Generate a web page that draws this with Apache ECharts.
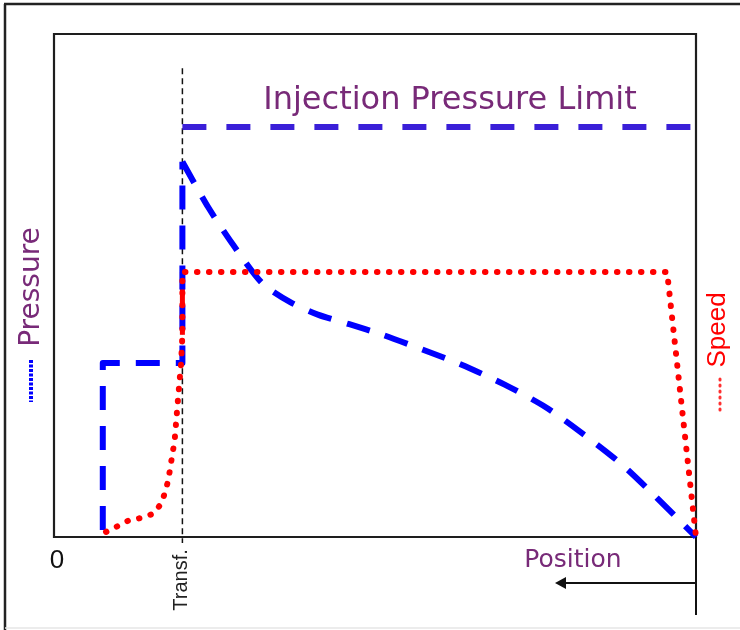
<!DOCTYPE html>
<html>
<head>
<meta charset="utf-8">
<style>
  html, body { margin: 0; padding: 0; background: #fff; }
  #chart { width: 740px; height: 630px; }
</style>
<script src="https://cdn.jsdelivr.net/npm/echarts@6/dist/echarts.min.js"></script>
</head>
<body>
<div id="chart"></div>
<script>
// ---- data (normalised units: x 0..100 along position, y 0..100 in plot height) ----
const pressureStepX = [7.6, 7.6, 20, 20];
const pressureStepY = [1.4, 34.6, 34.6, 74.6];
const pressureCurveX = [20, 24.0, 27.9, 32.4, 36.8, 41.1, 46.0, 51.2, 56.7, 63.4, 70.2, 76.6, 82.4, 88.2, 93.5, 100];
const pressureCurveY = [74.6, 65.6, 58.1, 50.5, 46.7, 44.2, 42.3, 40.2, 37.6, 34.3, 30.3, 25.8, 20.5, 14.7, 8.3, 0];
const speedX = [8.1, 10.0, 11.8, 13.7, 15.4, 16.7, 17.3, 17.8, 18.8, 19.3, 19.8, 20, 20, 95.5, 100];
const speedY = [1.0, 2.2, 3.4, 3.8, 4.6, 6.6, 8.9, 11.3, 19.3, 27.2, 34.6, 40.2, 52.7, 52.7, 0];
const speedSolidX = [20, 20];
const speedSolidY = [40.2, 52.7];
const limitX = [20, 100];
const limitY = [81.5, 81.5];
const transfX = [20, 20];
const transfY = [93.2, -1.2];
const texts = {
  limit: 'Injection Pressure Limit',
  pressure: 'Pressure',
  speed: 'Speed',
  position: 'Position',
  zero: '0',
  transf: 'Transf.'
};

const zip = (xs, ys) => xs.map((x, i) => [x, ys[i]]);
const purple = '#782a78';
const pressureStyle = { color: '#0000ff', width: 6, type: [24, 16], cap: 'butt', join: 'round' };

const chart = echarts.init(document.getElementById('chart'), null, { renderer: 'canvas' });
chart.setOption({
  animation: false,
  backgroundColor: '#fff',
  grid: { left: 54, top: 34, right: 44, bottom: 93, show: true, borderColor: '#1e1e1e', borderWidth: 2.2, backgroundColor: 'transparent' },
  xAxis: { type: 'value', min: 0, max: 100, show: false },
  yAxis: { type: 'value', min: 0, max: 100, show: false },
  series: [
    { type: 'line', data: zip(transfX, transfY), symbol: 'none', clip: false, silent: true,
      lineStyle: { color: '#111', width: 1.5, type: [6, 4] }, z: 1 },
    { type: 'line', data: zip(limitX, limitY), symbol: 'none', clip: false,
      lineStyle: { color: '#3a1fd8', width: 6, type: [24, 20], cap: 'butt' }, z: 3 },
    { type: 'line', data: zip(speedSolidX, speedSolidY), symbol: 'none', clip: false,
      lineStyle: { color: '#ff0000', width: 5 }, z: 2 },
    { type: 'line', data: zip(speedX, speedY), symbol: 'none', clip: false,
      lineStyle: { color: '#ff0000', width: 6, type: [0.5, 11.5], cap: 'round' }, z: 4 },
    { type: 'line', data: zip(pressureStepX, pressureStepY), symbol: 'none', clip: false,
      lineStyle: pressureStyle, z: 3 },
    { type: 'line', data: zip(pressureCurveX, pressureCurveY), symbol: 'none', clip: false, smooth: 0.25,
      lineStyle: pressureStyle, z: 3 }
  ],
  graphic: [
    // outer frame
    { type: 'line', shape: { x1: 5, y1: 4, x2: 5, y2: 630 }, style: { stroke: '#222', lineWidth: 2.5 } },
    { type: 'line', shape: { x1: 4, y1: 4, x2: 740, y2: 4 }, style: { stroke: '#222', lineWidth: 2.5 } },
    { type: 'line', shape: { x1: 5, y1: 628, x2: 740, y2: 628 }, style: { stroke: '#e6e6e6', lineWidth: 1.5 } },
    // right axis extension and arrow
    { type: 'line', shape: { x1: 696, y1: 537, x2: 696, y2: 615 }, style: { stroke: '#111', lineWidth: 2 } },
    { type: 'line', shape: { x1: 562, y1: 583, x2: 696, y2: 583 }, style: { stroke: '#111', lineWidth: 2 } },
    { type: 'polygon', shape: { points: [[555, 583], [566, 577], [566, 589]] }, style: { fill: '#111' } },
    // texts
    { type: 'text', x: 450, y: 101, style: { text: texts.limit, font: '32px "DejaVu Sans"', fill: purple, align: 'center', verticalAlign: 'middle' } },
    { type: 'text', x: 32, y: 287, rotation: Math.PI / 2, style: { text: texts.pressure, font: '28px "DejaVu Sans"', fill: purple, align: 'center', verticalAlign: 'middle' } },
    { type: 'line', shape: { x1: 31, y1: 360, x2: 31, y2: 402 }, style: { stroke: '#0000ff', lineWidth: 4, lineDash: [3, 1.5] } },
    { type: 'text', x: 718, y: 330, rotation: Math.PI / 2, style: { text: texts.speed, font: '26px "Liberation Sans"', fill: '#ff0000', align: 'center', verticalAlign: 'middle' } },
    { type: 'line', shape: { x1: 720, y1: 379, x2: 720, y2: 410 }, style: { stroke: '#ff3030', lineWidth: 3, lineDash: [1, 5], lineCap: 'round' } },
    { type: 'text', x: 573, y: 560, style: { text: texts.position, font: '25px "DejaVu Sans"', fill: purple, align: 'center', verticalAlign: 'middle' } },
    { type: 'text', x: 57, y: 561, style: { text: texts.zero, font: '26px "Liberation Sans"', fill: '#111', align: 'center', verticalAlign: 'middle' } },
    { type: 'text', x: 181, y: 580, rotation: Math.PI / 2, style: { text: texts.transf, font: '20px "Liberation Sans"', fill: '#222', align: 'center', verticalAlign: 'middle' } }
  ]
});
</script>
</body>
</html>
